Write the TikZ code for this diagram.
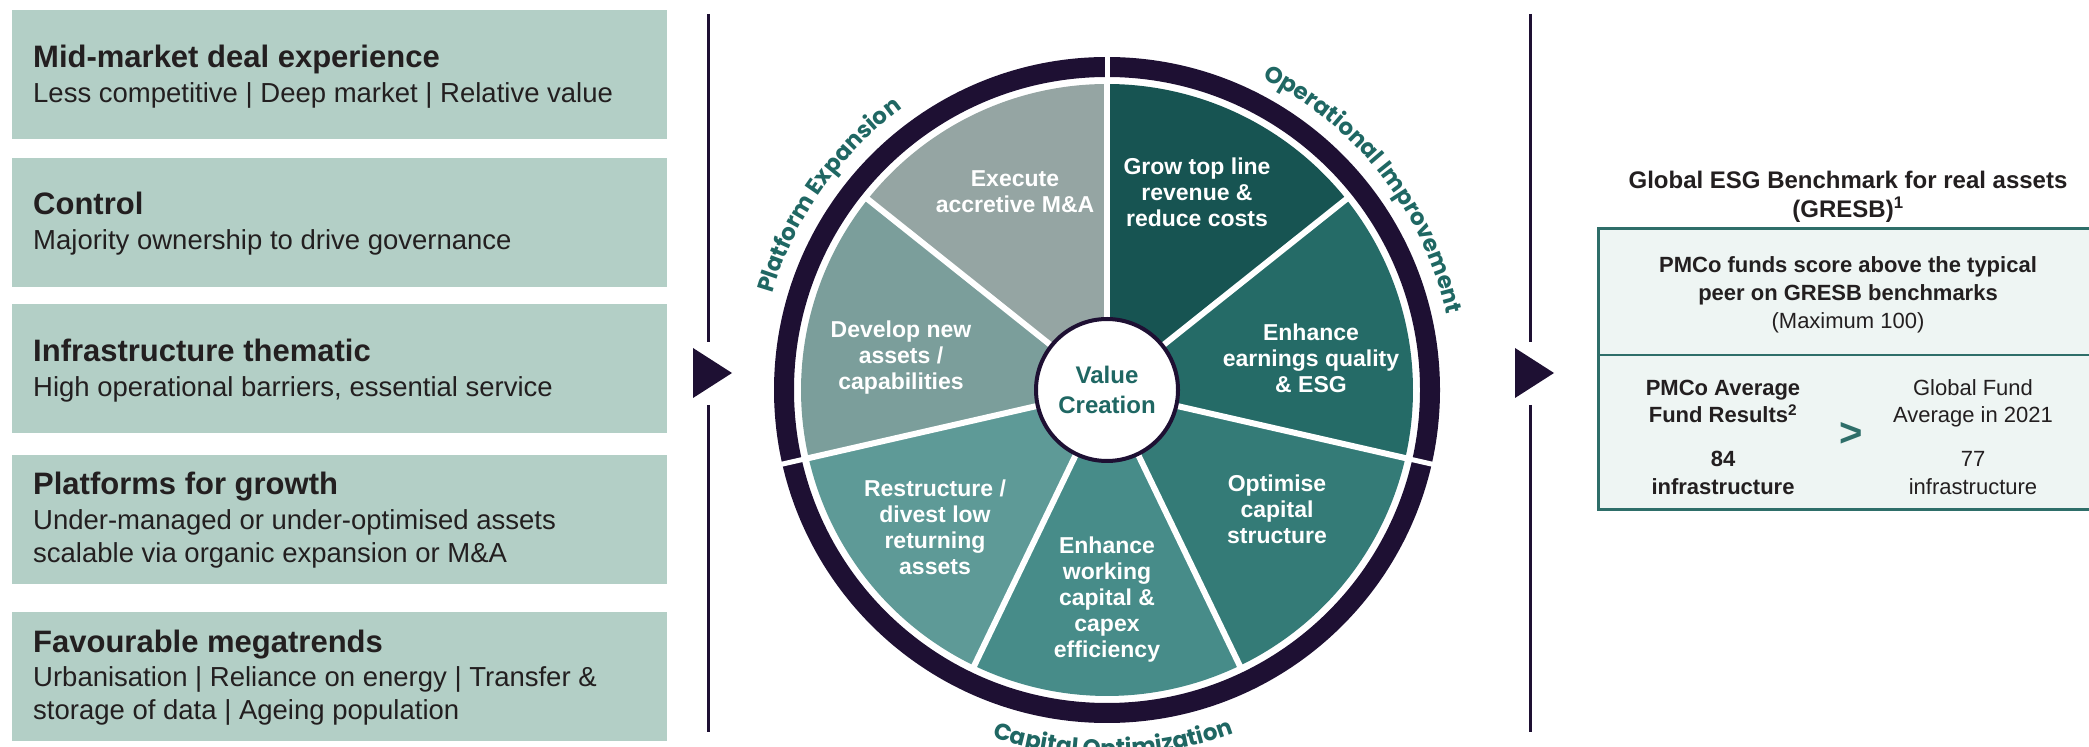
\documentclass[tikz,border=0pt]{standalone}
\usepackage{fontspec}
\setmainfont{Liberation Sans}
\newfontfamily\curvefont{Poppins}
\usetikzlibrary{decorations.text}
\definecolor{sage}{HTML}{B3CFC6}
\definecolor{ink}{HTML}{231F20}
\definecolor{navy}{HTML}{1E1033}
\definecolor{tealtxt}{HTML}{1F6763}
\definecolor{segA}{HTML}{95A5A3}
\definecolor{segB}{HTML}{175452}
\definecolor{segC}{HTML}{256B67}
\definecolor{segD}{HTML}{347B77}
\definecolor{segE}{HTML}{478C89}
\definecolor{segF}{HTML}{5E9A97}
\definecolor{segG}{HTML}{7B9E9B}
\definecolor{boxfill}{HTML}{EEF5F3}
\definecolor{boxline}{HTML}{2E6E69}
\begin{document}
\begin{tikzpicture}[x=1pt,y=1pt,
  leftbox/.style={fill=sage, draw=none, inner sep=0pt, minimum width=655pt, minimum height=129pt, anchor=north west},
  ttl/.style={font=\bfseries\fontsize{31}{35}\selectfont, text=ink, anchor=base west, inner sep=0pt},
  subt/.style={font=\fontsize{27.5}{33}\selectfont, text=ink, anchor=base west, inner sep=0pt},
  segtxt/.style={font=\bfseries\fontsize{23}{26}\selectfont, text=white, align=center, inner sep=0pt},
  rbold/.style={font=\bfseries\fontsize{22}{26}\selectfont, text=ink, anchor=base, inner sep=0pt},
  rreg/.style={font=\fontsize{22}{26}\selectfont, text=ink, anchor=base, inner sep=0pt},
  rtitle/.style={font=\bfseries\fontsize{24}{28}\selectfont, text=ink, anchor=base, inner sep=0pt},
  divline/.style={draw=navy, line width=3pt},
  tri/.style={fill=navy},
  curvetext/.style={decorate, decoration={text along path, text align=center,
     text={|\curvefont\bfseries\fontsize{23}{23}\selectfont\color{tealtxt}|#1}}},
]
\useasboundingbox (0,0) rectangle (2089,747);
\clip (0,0) rectangle (2089,747);

% ---------------- left boxes ----------------
\node[leftbox] (b1) at (12,737) {};
\node[leftbox] (b2) at (12,589) {};
\node[leftbox] (b3) at (12,443) {};
\node[leftbox] (b4) at (12,292) {};
\node[leftbox] (b5) at (12,135) {};

\node[ttl]  (b1t) at (33,679) {Mid-market deal experience};
\node[subt] (b1s) at (33,644) {Less competitive | Deep market | Relative value};
\node[ttl]  (b2t) at (33,532) {Control};
\node[subt] (b2s) at (33,497) {Majority ownership to drive governance};
\node[ttl]  (b3t) at (33,385) {Infrastructure thematic};
\node[subt] (b3s) at (33,350) {High operational barriers, essential service};
\node[ttl]  (b4t) at (33,252) {Platforms for growth};
\node[subt] (b4s) at (33,217) {Under-managed or under-optimised assets};
\node[subt] (b4u) at (33,184) {scalable via organic expansion or M\&A};
\node[ttl]  (b5t) at (33,94) {Favourable megatrends};
\node[subt] (b5s) at (33,60) {Urbanisation | Reliance on energy | Transfer \&};
\node[subt] (b5u) at (33,27) {storage of data | Ageing population};

% ---------------- dividers ----------------
\coordinate (l1a) at (708,733); \coordinate (l1b) at (708,405);
\coordinate (l1c) at (708,342); \coordinate (l1d) at (708,15);
\draw[divline] (l1a) -- (l1b);
\draw[divline] (l1c) -- (l1d);
\fill[tri] (693,399) -- (693,349) -- (732,374) -- cycle;

\coordinate (l2a) at (1530,733); \coordinate (l2b) at (1530,405);
\coordinate (l2c) at (1530,342); \coordinate (l2d) at (1530,15);
\draw[divline] (l2a) -- (l2b);
\draw[divline] (l2c) -- (l2d);
\fill[tri] (1515,399) -- (1515,349) -- (1554,374) -- cycle;

% ---------------- wheel ----------------
\coordinate (C) at (1107,357);
\draw[navy, line width=20pt] (C) circle[radius=323];
\foreach \sa/\ea/\col in {38.571/90/segB, 90/141.429/segA, 141.429/192.857/segG,
   192.857/244.286/segF, 244.286/295.714/segE, 295.714/347.143/segD, 347.143/398.571/segC}{
  \fill[\col] (C) -- ++(\sa:306) arc[start angle=\sa, end angle=\ea, radius=306] -- cycle;
}
\foreach \a in {90, 38.571, -12.857, -64.286, -115.714, -167.143, 141.429}{
  \draw[white, line width=6pt] (C) -- ++(\a:309);
}
\foreach \a in {90, 192.857, 347.143}{
  \draw[white, line width=5pt] (C) ++(\a:300) -- ++(\a:45);
}

\node[circle, draw=navy, line width=4pt, fill=white, minimum size=142pt, inner sep=0pt,
      font=\bfseries\fontsize{24}{30}\selectfont, text=tealtxt, align=center] (vc) at (C) {Value\\Creation};

\node[segtxt] (s1) at (1015,555) {Execute\\accretive M\&A};
\node[segtxt] (s2) at (1197,555) {Grow top line\\revenue \&\\reduce costs};
\node[segtxt] (s3) at (1311,389) {Enhance\\earnings quality\\\& ESG};
\node[segtxt] (s4) at (1277,238) {Optimise\\capital\\structure};
\node[segtxt] (s5) at (1107,147) {Enhance\\working\\capital \&\\capex\\efficiency};
\node[segtxt] (s6) at (935,220) {Restructure /\\divest low\\returning\\assets};
\node[segtxt] (s7) at (901,389) {Develop new\\assets /\\capabilities};

\path[curvetext={Platform Expansion}] (C) ++(175:348) arc[start angle=175, end angle=115, radius=348];
\path[curvetext={Operational Improvement}] (C) ++(72:348) arc[start angle=72, end angle=4, radius=348];
\path[curvetext={Capital Optimization}] (C) ++(238:366) arc[start angle=238, end angle=304, radius=366];

% ---------------- right box ----------------
\node[rtitle] (rt1) at (1848,558) {Global ESG Benchmark for real assets};
\node[rtitle] (rt2) at (1848,529) {(GRESB)\textsuperscript{1}};
\node[draw=boxline, fill=boxfill, line width=2.5pt, minimum width=513pt, minimum height=281pt,
      anchor=south west, inner sep=0pt] (rbox) at (1597,236) {};
\coordinate (dv1) at (1597,392); \coordinate (dv2) at (2110,392);
\draw[boxline, line width=2.5pt] (dv1) -- (dv2);
\node[rbold] (rp1) at (1848,474) {PMCo funds score above the typical};
\node[rbold] (rp2) at (1848,446) {peer on GRESB benchmarks};
\node[rreg]  (rp3) at (1848,418) {(Maximum 100)};
\node[rbold] (la1) at (1723,351) {PMCo Average};
\node[rbold] (la2) at (1723,324) {Fund Results\textsuperscript{2}};
\node[rbold] (la3) at (1723,280) {84};
\node[rbold] (la4) at (1723,252) {infrastructure};
\node[rreg]  (ra1) at (1973,351) {Global Fund};
\node[rreg]  (ra2) at (1973,324) {Average in 2021};
\node[rreg]  (ra3) at (1973,280) {77};
\node[rreg]  (ra4) at (1973,252) {infrastructure};
\node[font=\bfseries\fontsize{40}{40}\selectfont, text=boxline, inner sep=0pt] (gt) at (1851,312) {>};
\end{tikzpicture}
\end{document}
